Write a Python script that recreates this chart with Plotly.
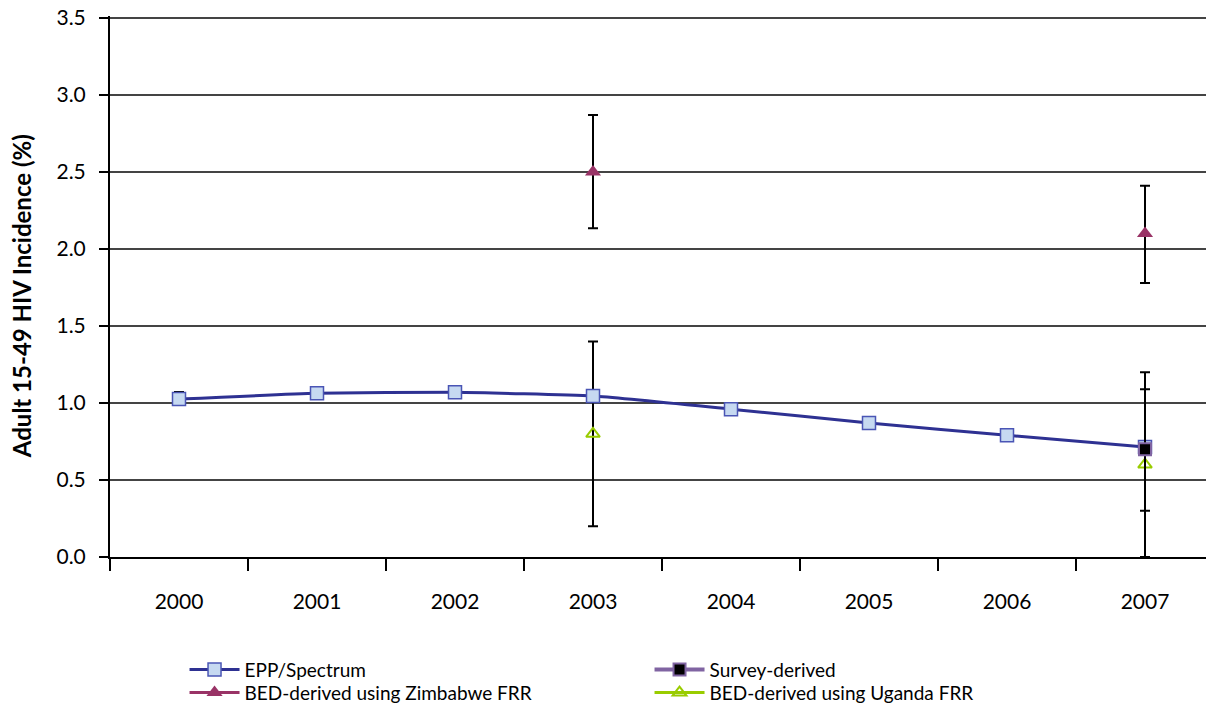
import plotly.graph_objects as go

years = [2000, 2001, 2002, 2003, 2004, 2005, 2006, 2007]
year_labels = ["2000", "2001", "2002", "2003", "2004", "2005", "2006", "2007"]

epp = [1.026, 1.063, 1.069, 1.045, 0.96, 0.87, 0.79, 0.714]
epp_err_plus = [0.045, 0, 0.035, 0, 0, 0, 0, 0]
epp_err_minus = [0, 0, 0, 0, 0, 0, 0, 0]

survey = [None, None, None, None, None, None, None, 0.70]
survey_err_plus = [None, None, None, None, None, None, None, 0.39]
survey_err_minus = [None, None, None, None, None, None, None, 0.40]

zim = [None, None, None, 2.50, None, None, None, 2.10]
zim_err_plus = [None, None, None, 0.37, None, None, None, 0.31]
zim_err_minus = [None, None, None, 0.365, None, None, None, 0.32]

uga = [None, None, None, 0.80, None, None, None, 0.60]
uga_err_plus = [None, None, None, 0.60, None, None, None, 0.60]
uga_err_minus = [None, None, None, 0.60, None, None, None, 0.60]

y_ticks = [0.0, 0.5, 1.0, 1.5, 2.0, 2.5, 3.0, 3.5]
y_ticktext = ["0.0", "0.5", "1.0", "1.5", "2.0", "2.5", "3.0", "3.5"]

FONT = "Lato, 'Open Sans', sans-serif"

fig = go.Figure()

err_style = dict(type="data", symmetric=False, color="black", thickness=2, width=5)

fig.add_trace(go.Scatter(
    x=years, y=uga, name="BED-derived using Uganda FRR", mode="lines+markers",
    connectgaps=False, legendrank=4, legend="legend2",
    line=dict(color="#99cc00", width=3),
    marker=dict(symbol="triangle-up-open", size=12, color="#99cc00", line=dict(width=2, color="#99cc00")),
    error_y=dict(array=uga_err_plus, arrayminus=uga_err_minus, **err_style),
))
fig.add_trace(go.Scatter(
    x=years, y=zim, name="BED-derived using Zimbabwe FRR", mode="lines+markers",
    connectgaps=False, legendrank=3, legend="legend2",
    line=dict(color="#993366", width=3),
    marker=dict(symbol="triangle-up", size=14, color="#993366"),
    error_y=dict(array=zim_err_plus, arrayminus=zim_err_minus, **err_style),
))
fig.add_trace(go.Scatter(
    x=years, y=epp, name="EPP/Spectrum", mode="lines+markers",
    legendrank=1, legend="legend",
    line=dict(color="#2e3192", width=3, shape="spline", smoothing=0.5),
    marker=dict(symbol="square", size=13, color="#c6d9f1", line=dict(width=1.5, color="#4a55b5")),
    error_y=dict(array=epp_err_plus, arrayminus=epp_err_minus, **err_style),
))
fig.add_trace(go.Scatter(
    x=years, y=survey, name="Survey-derived", mode="lines+markers",
    connectgaps=False, legendrank=2, legend="legend",
    line=dict(color="#8064a2", width=4),
    marker=dict(symbol="square", size=12, color="black", line=dict(width=2, color="#8064a2")),
    error_y=dict(array=survey_err_plus, arrayminus=survey_err_minus, **err_style),
))

legend_common = dict(
    orientation="h", xanchor="left", yanchor="top",
    entrywidth=400, entrywidthmode="pixels",
    font=dict(family=FONT, size=19, color="black"),
    itemwidth=50, tracegroupgap=0,
    bgcolor="rgba(0,0,0,0)",
)

fig.update_layout(
    width=1206, height=708,
    margin=dict(l=110, r=0, t=16, b=151, autoexpand=False),
    paper_bgcolor="white", plot_bgcolor="white",
    font=dict(family=FONT, color="black"),
    showlegend=True,
    legend=dict(x=0.068, y=-0.1733, **legend_common),
    legend2=dict(x=0.068, y=-0.2158, **legend_common),
    xaxis=dict(
        range=[1999.5, 2007.442], tickmode="array", tickvals=years, ticktext=year_labels,
        ticks="", showgrid=False, zeroline=False,
        showline=True, linecolor="black", linewidth=2,
        tickfont=dict(family=FONT, size=21, color="black"),
        ticklabelstandoff=25,
        minor=dict(tickmode="array", tickvals=[y - 0.5 for y in years] + [2007.5],
                   ticks="outside", ticklen=12, tickwidth=2, tickcolor="black", showgrid=False),
    ),
    yaxis=dict(
        range=[0, 3.513], tickmode="array", tickvals=y_ticks, ticktext=y_ticktext,
        ticks="outside", ticklen=9, tickwidth=2, tickcolor="black",
        showline=True, linecolor="black", linewidth=2,
        showgrid=True, gridcolor="#444444", gridwidth=1.5,
        zeroline=False, ticklabeloverflow="allow",
        tickfont=dict(family=FONT, size=21, color="black"),
        ticklabelstandoff=9,
        title=dict(text="<b>Adult 15-49 HIV Incidence (%)</b>&nbsp;&nbsp;&nbsp;", font=dict(family=FONT, size=24, color="black"), standoff=18),
    ),
)

fig.write_html("out.html", config={"displayModeBar": False},
               post_script="document.body.style.margin='0';")
